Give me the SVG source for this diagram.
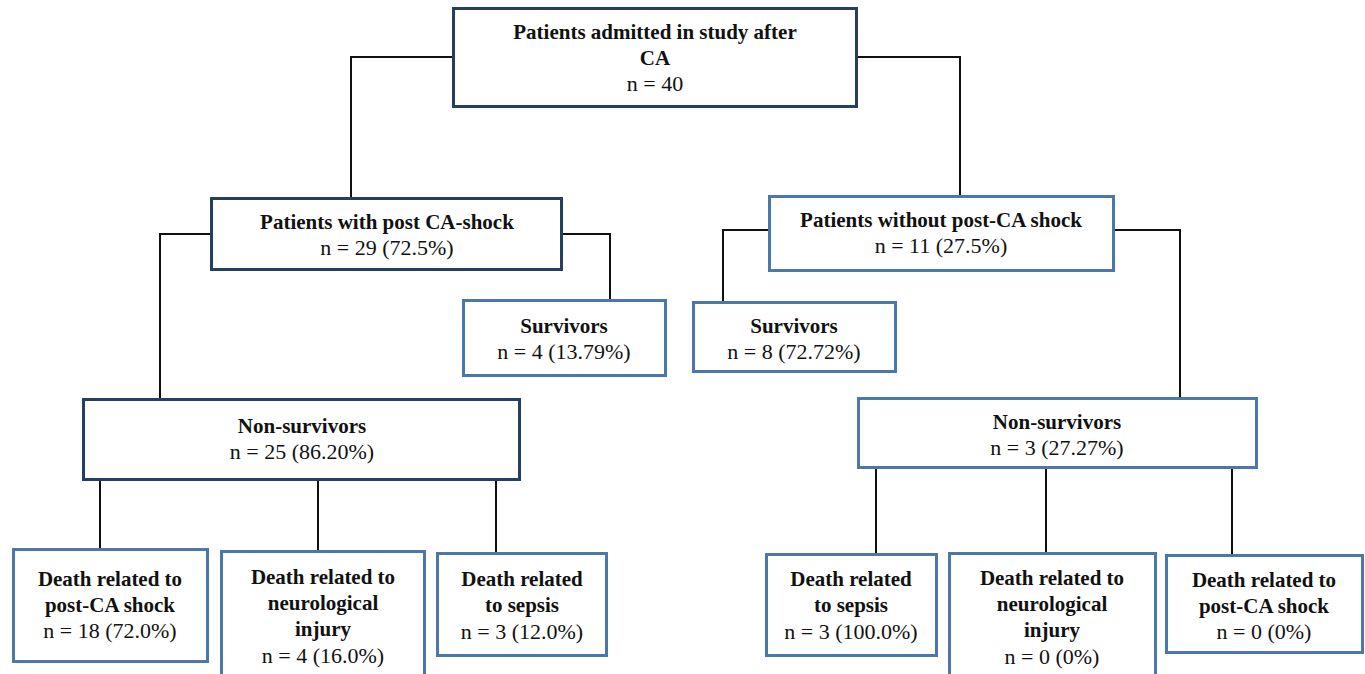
<svg xmlns="http://www.w3.org/2000/svg" width="1365" height="674" viewBox="0 0 1365 674">
<style>
.dk{fill:#fff;stroke:#243f60;stroke-width:3}
.lt{fill:#fff;stroke:#4a78ab;stroke-width:3}
.c{fill:none;stroke:#111;stroke-width:2}
text{font-family:"Liberation Serif","Times New Roman",serif;font-size:22px;fill:#111;text-anchor:middle}
.b{font-weight:bold;font-size:21px}
</style>
<rect width="1365" height="674" fill="#fff"/>
<g id="connectors">
<polyline class="c" points="453,57 351,57 351,198"/>
<polyline class="c" points="857,57 960,57 960,196"/>
<polyline class="c" points="211,234 160,234 160,399"/>
<polyline class="c" points="562,234 610,234 610,300"/>
<polyline class="c" points="769,230 723,230 723,302"/>
<polyline class="c" points="1114,230 1180,230 1180,398"/>
<line class="c" x1="100" y1="480" x2="100" y2="549"/>
<line class="c" x1="318" y1="480" x2="318" y2="551"/>
<line class="c" x1="496" y1="480" x2="496" y2="553"/>
<line class="c" x1="876" y1="468" x2="876" y2="554"/>
<line class="c" x1="1046" y1="468" x2="1046" y2="553"/>
<line class="c" x1="1232" y1="468" x2="1232" y2="555"/>
</g>
<g id="root">
<rect class="dk" x="453.5" y="8.5" width="403" height="98"/>
<text x="655" y="39" class="b">Patients admitted in study after</text>
<text x="655" y="65" class="b">CA</text>
<text x="655" y="91">n = 40</text>
</g>
<g id="shock">
<rect class="dk" x="211.5" y="198.5" width="350" height="71"/>
<text x="387" y="229" class="b">Patients with post CA-shock</text>
<text x="387" y="255">n = 29 (72.5%)</text>
</g>
<g id="noshock">
<rect class="lt" x="769.5" y="196.5" width="344" height="74"/>
<text x="941" y="227" class="b">Patients without post-CA shock</text>
<text x="941" y="253">n = 11 (27.5%)</text>
</g>
<g id="surv-left">
<rect class="lt" x="463.5" y="300.5" width="202" height="75"/>
<text x="564" y="333" class="b">Survivors</text>
<text x="564" y="359">n = 4 (13.79%)</text>
</g>
<g id="surv-right">
<rect class="lt" x="693.5" y="302.5" width="202" height="69"/>
<text x="794" y="333" class="b">Survivors</text>
<text x="794" y="359">n = 8 (72.72%)</text>
</g>
<g id="nonsurv-left">
<rect class="dk" x="83.5" y="399.5" width="436" height="80"/>
<text x="302" y="433" class="b">Non-survivors</text>
<text x="302" y="459">n = 25 (86.20%)</text>
</g>
<g id="nonsurv-right">
<rect class="lt" x="858.5" y="398.5" width="398" height="69"/>
<text x="1057" y="429" class="b">Non-survivors</text>
<text x="1057" y="455">n = 3 (27.27%)</text>
</g>
<g id="l-shock">
<rect class="lt" x="13.5" y="549.5" width="194" height="112"/>
<text x="110" y="586" class="b">Death related to</text>
<text x="110" y="612" class="b">post-CA shock</text>
<text x="110" y="638">n = 18 (72.0%)</text>
</g>
<g id="l-neuro">
<rect class="lt" x="221.5" y="551.5" width="203" height="130"/>
<text x="323" y="584" class="b">Death related to</text>
<text x="323" y="610" class="b">neurological</text>
<text x="323" y="636" class="b">injury</text>
<text x="323" y="663">n = 4 (16.0%)</text>
</g>
<g id="l-sepsis">
<rect class="lt" x="437.5" y="553.5" width="169" height="102"/>
<text x="522" y="586" class="b">Death related</text>
<text x="522" y="612" class="b">to sepsis</text>
<text x="522" y="639">n = 3 (12.0%)</text>
</g>
<g id="r-sepsis">
<rect class="lt" x="766.5" y="554.5" width="170" height="101"/>
<text x="851" y="586" class="b">Death related</text>
<text x="851" y="612" class="b">to sepsis</text>
<text x="851" y="639">n = 3 (100.0%)</text>
</g>
<g id="r-neuro">
<rect class="lt" x="949.5" y="553.5" width="206" height="130"/>
<text x="1052" y="585" class="b">Death related to</text>
<text x="1052" y="611" class="b">neurological</text>
<text x="1052" y="637" class="b">injury</text>
<text x="1052" y="664">n = 0 (0%)</text>
</g>
<g id="r-shock">
<rect class="lt" x="1166.5" y="555.5" width="196" height="97"/>
<text x="1264" y="587" class="b">Death related to</text>
<text x="1264" y="613" class="b">post-CA shock</text>
<text x="1264" y="639">n = 0 (0%)</text>
</g>
</svg>
